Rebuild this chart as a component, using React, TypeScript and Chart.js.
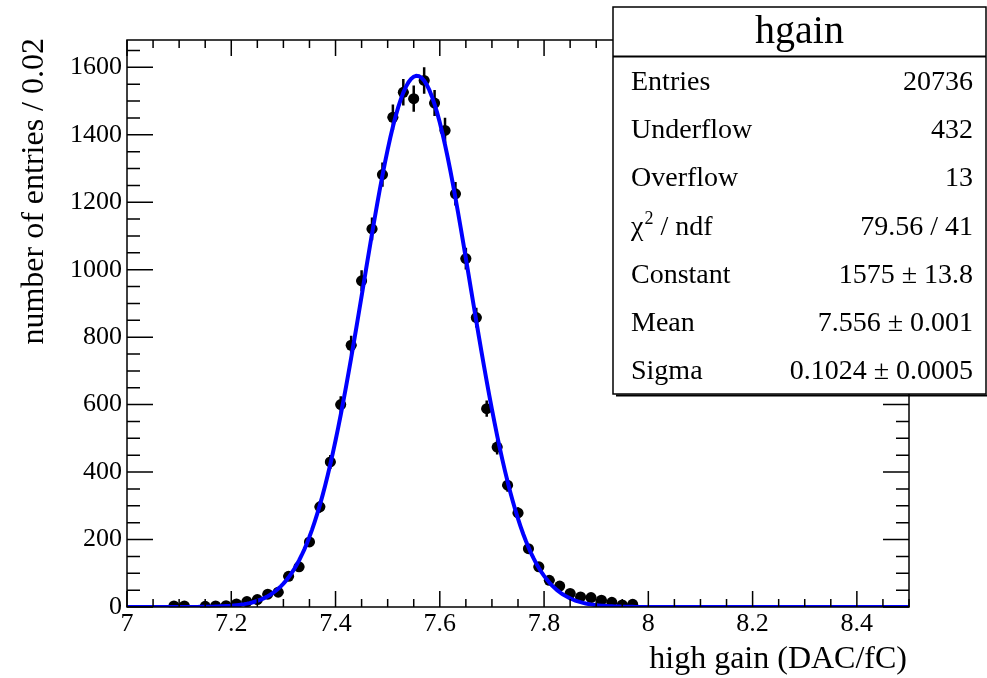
import React, { useEffect, useRef } from "react";
import { Chart, registerables } from "chart.js";
Chart.register(...registerables);

// ---- data ----
const binCenters = [
  7.09, 7.11, 7.15, 7.17, 7.19, 7.21, 7.23, 7.25, 7.27, 7.29,
  7.31, 7.33, 7.35, 7.37, 7.39, 7.41, 7.43, 7.45, 7.47, 7.49,
  7.51, 7.53, 7.55, 7.57, 7.59, 7.61, 7.63, 7.65, 7.67, 7.69,
  7.71, 7.73, 7.75, 7.77, 7.79, 7.81, 7.83, 7.85, 7.87, 7.89,
  7.91, 7.93, 7.95, 7.97,
];
const binCounts = [
  3, 3, 2, 3, 4, 9, 16, 22, 38, 44,
  91, 119, 193, 297, 430, 600, 776, 967, 1121, 1282,
  1452, 1526, 1507, 1561, 1494, 1413, 1225, 1033, 858, 588,
  474, 361, 279, 173, 119, 79, 62, 40, 30, 28,
  20, 14, 6, 8,
];
const binHalfWidth = 0.01;

// fit parameters shown in the stats box
const fitConstant = 1575;
const fitMean = 7.556;
const fitSigma = 0.1024;

const xMin = 7;
const xMax = 8.5;
const yMin = 0;
const yMax = 1681;
const xMajorStep = 0.2;
const xMinorStep = 0.05;
const yMajorStep = 200;
const yMinorStep = 50;

const xTitle = "high gain (DAC/fC)";
const yTitle = "number of entries / 0.02";
const statsTitle = "hgain";
const statsLabels = ["Entries", "Underflow", "Overflow", "χ² / ndf", "Constant", "Mean", "Sigma"];
const statsValues = ["20736", "432", "13", "79.56 / 41", "1575 ± 13.8", "7.556 ± 0.001", "0.1024 ± 0.0005"];

const FONT = '"Liberation Serif", "Times New Roman", serif';

const fitX: number[] = [];
for (let i = 0; i <= 300; i++) fitX.push(xMin + (i * (xMax - xMin)) / 300);
const fitPoints = fitX.map((x) => ({
  x,
  y: fitConstant * Math.exp(-((x - fitMean) ** 2) / (2 * fitSigma * fitSigma)),
}));

const rootPlugin = {
  id: "rootStyle",
  beforeDatasetsDraw(chart: any) {
    const { ctx } = chart;
    const xs = chart.scales.x;
    const ys = chart.scales.y;
    ctx.save();
    ctx.strokeStyle = "#000";
    ctx.lineWidth = 2.5;
    binCenters.forEach((c, i) => {
      const n = binCounts[i];
      const e = Math.sqrt(n);
      const px = xs.getPixelForValue(c);
      const py = ys.getPixelForValue(n);
      ctx.beginPath();
      ctx.moveTo(px, ys.getPixelForValue(Math.max(0, n - e)));
      ctx.lineTo(px, ys.getPixelForValue(n + e));
      ctx.moveTo(xs.getPixelForValue(c - binHalfWidth), py);
      ctx.lineTo(xs.getPixelForValue(c + binHalfWidth), py);
      ctx.stroke();
    });
    ctx.restore();
  },
  afterDraw(chart: any) {
    const { ctx, chartArea: a } = chart;
    const xs = chart.scales.x;
    const ys = chart.scales.y;
    ctx.save();
    ctx.strokeStyle = "#000";
    ctx.lineWidth = 1.5;
    // ticks
    ctx.beginPath();
    for (let v = xMin; v <= xMax + 1e-9; v += xMinorStep) {
      const px = xs.getPixelForValue(v);
      const isMajor = Math.abs((v - xMin) / xMajorStep - Math.round((v - xMin) / xMajorStep)) < 1e-6;
      const len = isMajor ? 16 : 8;
      ctx.moveTo(px, a.bottom);
      ctx.lineTo(px, a.bottom - len);
      ctx.moveTo(px, a.top);
      ctx.lineTo(px, a.top + len);
    }
    for (let v = yMin; v <= yMax + 1e-9; v += yMinorStep) {
      const py = ys.getPixelForValue(v);
      const isMajor = Math.abs(v / yMajorStep - Math.round(v / yMajorStep)) < 1e-6;
      const len = isMajor ? 26 : 13;
      ctx.moveTo(a.left, py);
      ctx.lineTo(a.left + len, py);
      ctx.moveTo(a.right, py);
      ctx.lineTo(a.right - len, py);
    }
    ctx.stroke();
    // frame
    ctx.strokeRect(a.left, a.top, a.right - a.left, a.bottom - a.top);

    // axis titles
    ctx.fillStyle = "#000";
    ctx.font = `32px ${FONT}`;
    ctx.textAlign = "right";
    ctx.textBaseline = "alphabetic";
    ctx.fillText(xTitle, a.right - 2, 668);
    ctx.save();
    ctx.translate(43, 38);
    ctx.rotate(-Math.PI / 2);
    ctx.textAlign = "right";
    ctx.fillText(yTitle, 0, 0);
    ctx.restore();

    // stats box
    const bx = 613, by = 7, bw = 373, bh = 387;
    ctx.fillStyle = "#fff";
    ctx.fillRect(bx, by, bw, bh);
    ctx.lineWidth = 1.5;
    ctx.strokeRect(bx, by, bw, bh);
    ctx.lineWidth = 2;
    ctx.beginPath();
    ctx.moveTo(bx + 3, by + bh + 1.5);
    ctx.lineTo(bx + bw + 3, by + bh + 1.5);
    ctx.moveTo(bx, 56.5);
    ctx.lineTo(bx + bw, 56.5);
    ctx.stroke();
    ctx.fillStyle = "#000";
    ctx.font = `40px ${FONT}`;
    ctx.textAlign = "center";
    ctx.fillText(statsTitle, bx + bw / 2, 43);
    ctx.font = `28px ${FONT}`;
    statsLabels.forEach((lab, i) => {
      const yb = 90 + 48.2 * i;
      ctx.textAlign = "left";
      if (lab.includes("²")) {
        const [pre, post] = lab.split("²");
        ctx.font = `28px ${FONT}`;
        ctx.fillText(pre, 631, yb);
        let x = 631 + ctx.measureText(pre).width;
        ctx.font = `18px ${FONT}`;
        ctx.fillText("2", x + 1, yb - 11);
        x += ctx.measureText("2").width + 1;
        ctx.font = `28px ${FONT}`;
        ctx.fillText(post, x, yb);
      } else {
        ctx.fillText(lab, 631, yb);
      }
      ctx.textAlign = "right";
      ctx.fillText(statsValues[i], 973, yb);
    });
    ctx.restore();
  },
};

export default function App() {
  const ref = useRef<HTMLCanvasElement>(null);
  useEffect(() => {
    if (!ref.current) return;
    const chart = new Chart(ref.current, {
      type: "scatter",
      data: {
        datasets: [
          {
            type: "line",
            label: "fit",
            data: fitPoints,
            borderColor: "#0000ff",
            borderWidth: 4,
            pointRadius: 0,
            fill: false,
            tension: 0,
          } as any,
          {
            label: "hgain",
            data: binCenters.map((x, i) => ({ x, y: binCounts[i] })),
            backgroundColor: "#000",
            borderColor: "#000",
            pointRadius: 5.5,
            pointBorderWidth: 0,
            showLine: false,
          },
        ],
      },
      options: {
        responsive: false,
        animation: false,
        events: [],
        layout: { padding: { left: 0, top: 40, right: 78, bottom: 0 } },
        plugins: { legend: { display: false }, tooltip: { enabled: false } },
        scales: {
          x: {
            type: "linear",
            min: xMin,
            max: xMax,
            grid: { display: false, drawTicks: false },
            border: { display: false },
            ticks: {
              stepSize: xMajorStep,
              includeBounds: false,
              autoSkip: false,
              maxRotation: 0,
              padding: 2,
              color: "#000",
              font: { family: FONT, size: 26 },
              callback: (v: any) => String(Number(Number(v).toFixed(2))),
            },
            afterFit: (s: any) => {
              s.height = 71;
            },
          },
          y: {
            type: "linear",
            min: yMin,
            max: yMax,
            grid: { display: false, drawTicks: false },
            border: { display: false },
            ticks: {
              stepSize: yMajorStep,
              includeBounds: false,
              autoSkip: false,
              padding: 5,
              color: "#000",
              font: { family: FONT, size: 26 },
              callback: (v: any) => String(Math.round(Number(v))),
            },
            afterFit: (s: any) => {
              s.width = 127;
            },
          },
        },
      },
      plugins: [rootPlugin],
    });
    return () => chart.destroy();
  }, []);
  return (
    <div style={{ position: "absolute", left: 0, top: 0, width: 987, height: 678, background: "#fff" }}>
      <canvas ref={ref} width={987} height={678} style={{ width: 987, height: 678, display: "block" }} />
    </div>
  );
}
